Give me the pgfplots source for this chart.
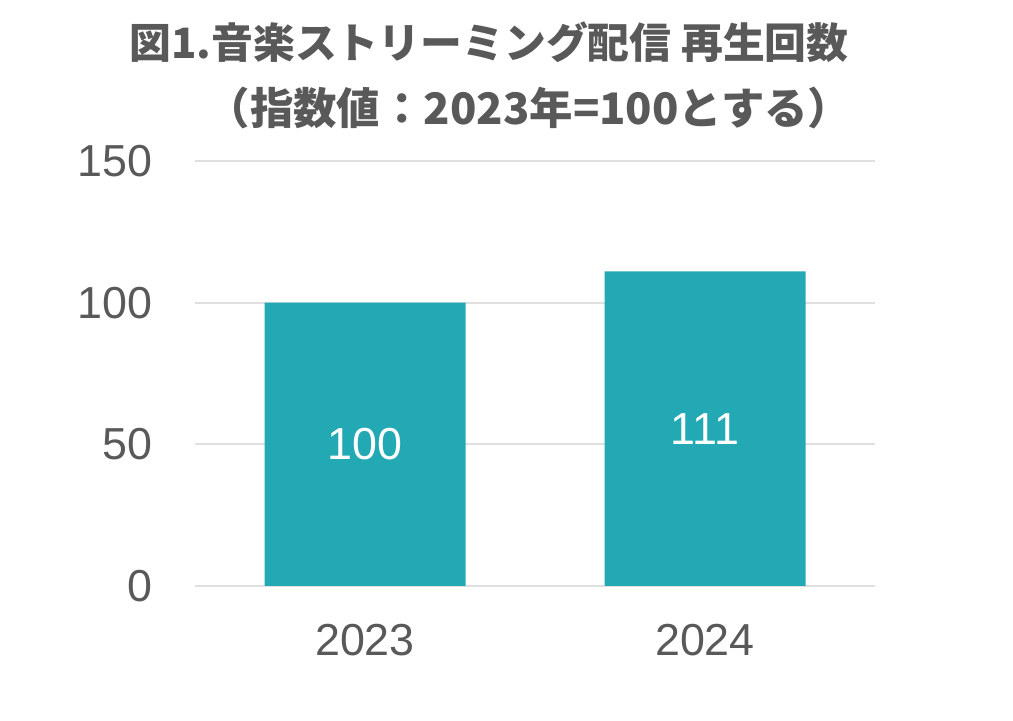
\documentclass[border=0pt]{standalone}
\usepackage{pgfplots}
\pgfplotsset{compat=1.18}
\usepackage{fontspec}
\setmainfont{Liberation Sans}
\newfontfamily\cjk{Noto Sans CJK JP}

\definecolor{txtgray}{HTML}{595959}
\definecolor{barteal}{HTML}{23A9B4}
\definecolor{gridgray}{HTML}{E0E0E0}

\begin{document}
\begin{tikzpicture}
  \path[use as bounding box] (0,0) rectangle (506.5bp,360.5bp);
  % title, two lines
  \node[text=txtgray, font=\cjk\bfseries\fontsize{21}{21}\selectfont, inner sep=0pt]
    at (244.5bp,339.5bp) {図1.音楽ストリーミング配信 再生回数};
  \node[text=txtgray, font=\cjk\bfseries\fontsize{21.8}{21.8}\selectfont, inner sep=0pt]
    at (264.5bp,306.5bp) {（指数値：2023年=100とする）};
  \begin{axis}[
      at={(97.5bp,67.5bp)}, anchor=south west,
      scale only axis, width=340bp, height=212.5bp,
      xmin=-0.5, xmax=1.5, ymin=0, ymax=150,
      xtick={0,1}, xticklabels={2023,2024},
      ytick={0,50,100,150},
      /pgf/number format/assume math mode=true,
      axis line style={draw=none},
      major tick length=0pt,
      ymajorgrids, grid style={gridgray, line width=1bp},
      tick label style={text=txtgray, font=\fontsize{22.5}{22.5}\selectfont, inner sep=0pt},
      yticklabel style={anchor=east, xshift=-21bp},
      xticklabel style={anchor=center, yshift=-27bp},
      ybar, bar width=100.5bp, bar shift=0pt,
      visualization depends on=y \as \rawy,
      nodes near coords,
      every node near coord/.append style={anchor=center, text=white,
        font=\fontsize{22.5}{22.5}\selectfont, inner sep=0pt,
        shift={(axis direction cs:0,-\rawy/2)}},
    ]
    \addplot[fill=barteal, draw=none] coordinates {(0,100) (1,111)};
  \end{axis}
\end{tikzpicture}
\end{document}
